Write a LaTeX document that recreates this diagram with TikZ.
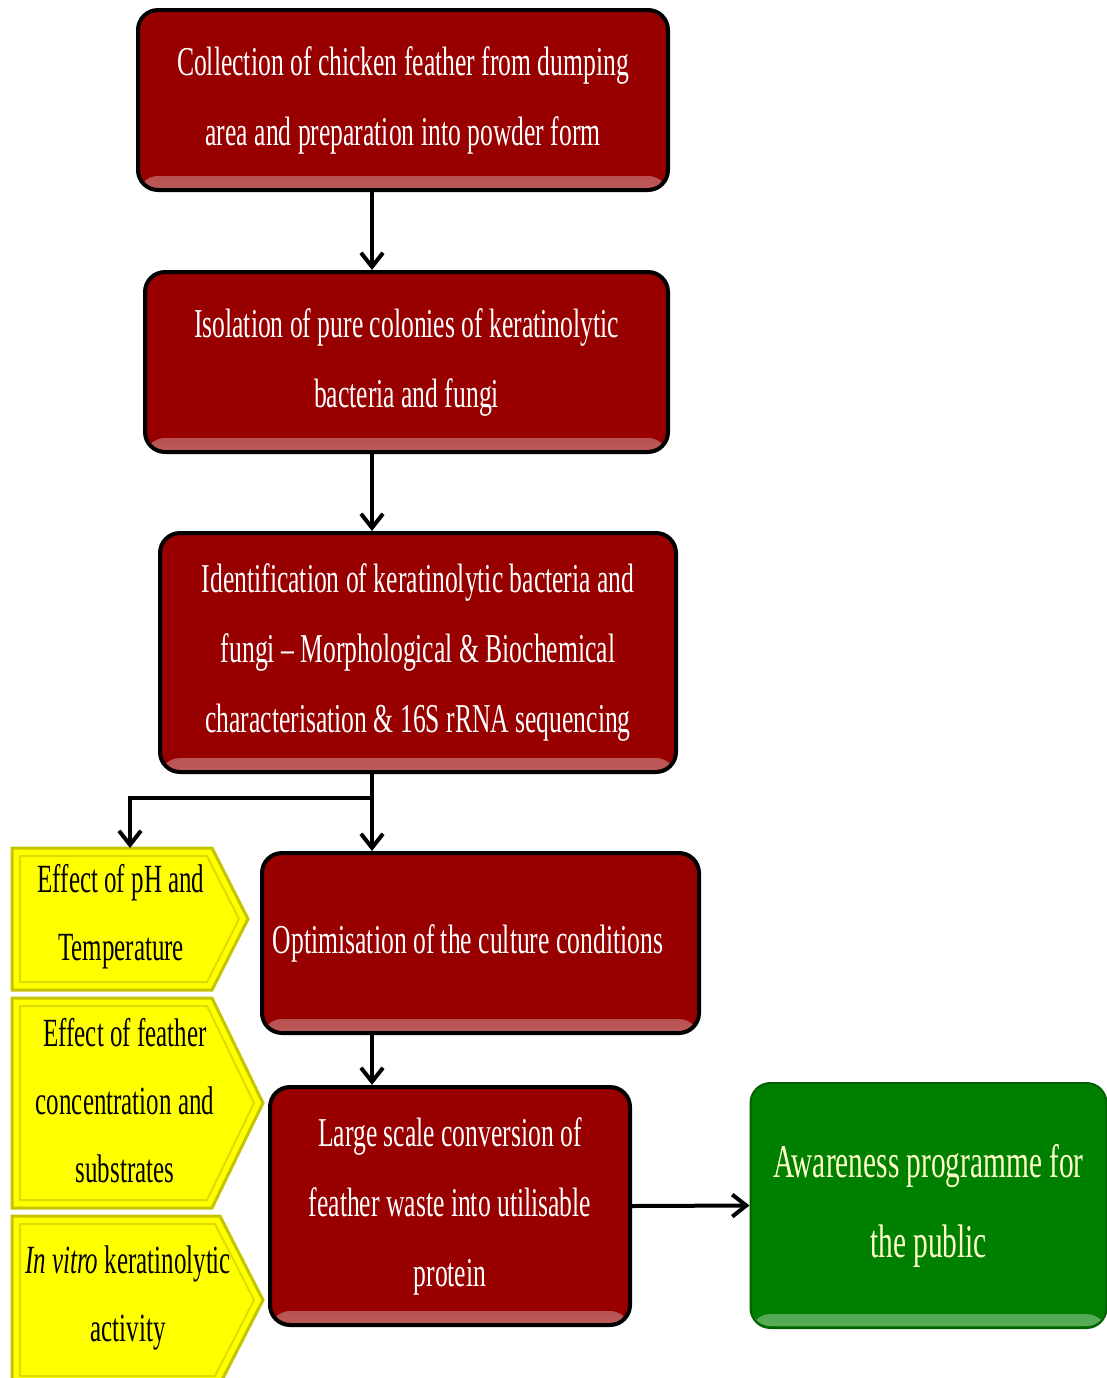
\documentclass[tikz,border=0pt]{standalone}
\usepackage{fontspec}
\newfontfamily\cond[FakeStretch=0.625]{Liberation Serif}
\usetikzlibrary{arrows.meta}
\definecolor{boxred}{RGB}{152,0,0}
\definecolor{boxgreen}{RGB}{0,128,0}
\definecolor{ylw}{RGB}{255,255,0}
\definecolor{ylwedge}{RGB}{196,196,0}
\definecolor{paletext}{RGB}{255,255,204}
\begin{document}
\begin{tikzpicture}[x=0.5pt,y=-0.5pt,
  redbox/.style={draw=black, line width=2pt, fill=boxred, rounded corners=10pt,
    text=white, align=center, inner sep=0pt,
    font=\cond\fontsize{20.5}{35}\selectfont,
    path picture={\shade[top color=boxred, bottom color=boxred!65!white]
      ([yshift=7pt]path picture bounding box.south west) rectangle ([yshift=1pt]path picture bounding box.south east);}},
  greenbox/.style={draw=boxgreen!75!black, line width=1pt, fill=boxgreen, rounded corners=10pt,
    text=paletext, align=center, inner sep=0pt,
    font=\cond\fontsize{23.5}{40}\selectfont,
    path picture={\shade[top color=boxgreen, bottom color=boxgreen!65!white]
      ([yshift=7pt]path picture bounding box.south west) rectangle ([yshift=1pt]path picture bounding box.south east);}},
  ylwshape/.style={fill=ylw, draw=ylwedge, line width=1.5pt, line join=miter},
  ylwinner/.style={draw=ylwedge!60!ylw, line width=1pt},
  ylwtext/.style={text=black, align=center, inner sep=0pt, font=\cond\fontsize{20}{34}\selectfont},
  arr/.style={draw=black, line width=2pt, -{Straight Barb[length=7pt,width=11pt,line width=2pt]}},
  conn/.style={draw=black, line width=2pt}
]
\useasboundingbox (0,0) rectangle (1107,1378);

% red boxes
\node[redbox, minimum width=265pt, minimum height=90pt] (b1) at (403,100)
  {Collection of chicken feather from dumping\\area and preparation into powder form};
\node[redbox, minimum width=261.5pt, minimum height=90pt] (b2) at (406.5,362)
  {Isolation of pure colonies of keratinolytic\\bacteria and fungi};
\node[redbox, minimum width=258pt, minimum height=119.5pt] (b3) at (418,652.5)
  {Identification of keratinolytic bacteria and\\fungi – Morphological \& Biochemical\\characterisation \& 16S rRNA sequencing};
\node[redbox, minimum width=218.5pt, minimum height=90pt] (opt) at (480.5,943)
  {Optimisation of the culture conditions\hspace*{12.5pt}};
\node[redbox, minimum width=180pt, minimum height=119pt] (large) at (450,1206)
  {Large scale conversion of\\feather waste into utilisable\\protein};
\node[greenbox, minimum width=178pt, minimum height=122.5pt] (green) at (928.5,1205.5)
  {Awareness programme for\\the public};

% yellow chevrons
\path[ylwshape] (12,848) -- (212,848) -- (248,919) -- (212,990) -- (12,990) -- cycle;
\path[ylwinner] (20,856) -- (207,856) -- (239,919) -- (207,982) -- (20,982) -- cycle;
\path[ylwshape] (12,998) -- (212,998) -- (263,1103) -- (212,1208) -- (12,1208) -- cycle;
\path[ylwinner] (20,1006) -- (207,1006) -- (254,1103) -- (207,1200) -- (20,1200) -- cycle;
\begin{scope}
\clip (0,0) rectangle (1107,1378);
\path[ylwshape] (12,1216) -- (220,1216) -- (263,1300) -- (220,1384) -- (12,1384) -- cycle;
\path[ylwinner] (20,1224) -- (215,1224) -- (254,1300) -- (215,1376) -- (20,1376) -- cycle;
\end{scope}
\node[ylwtext] (y1) at (121,917) {Effect of pH and\\Temperature};
\node[ylwtext] (y2) at (125,1101) {Effect of feather\\concentration and\\substrates};
\node[ylwtext] (y3) at (128,1298) {\textit{In vitro} keratinolytic\\activity};
\coordinate (y1top) at (130,848);

% connectors
\coordinate (spine) at (372,0);
\coordinate (branch) at (372,798);
\draw[arr] (b1.south -| spine) -- (b2.north -| spine);
\draw[arr] (b2.south -| spine) -- (b3.north -| spine);
\draw[conn] (b3.south -| spine) -- (branch);
\draw[arr] (branch) -- (opt.north -| spine);
\draw[arr] (branch) -| (y1top);
\draw[arr] (opt.south -| spine) -- (large.north -| spine);
\draw[arr] (large.east) -- (green.west);
\end{tikzpicture}
\end{document}
